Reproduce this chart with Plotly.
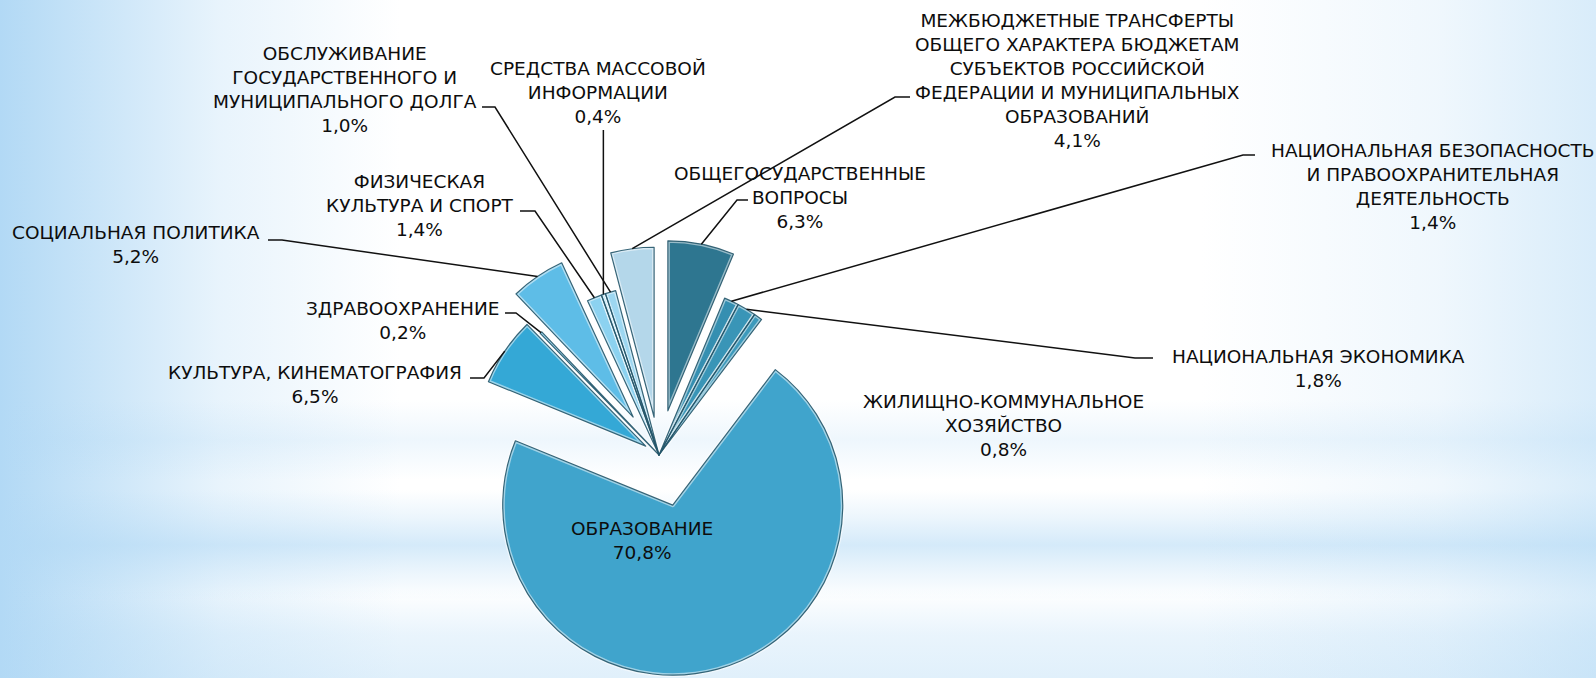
import math
import plotly.graph_objects as go

W, H = 1596, 678

# Budget expenditure structure by section, clockwise from 12 o'clock
sections = [
    "ОБЩЕГОСУДАРСТВЕННЫЕ<br>ВОПРОСЫ",
    "НАЦИОНАЛЬНАЯ БЕЗОПАСНОСТЬ<br>И ПРАВООХРАНИТЕЛЬНАЯ<br>ДЕЯТЕЛЬНОСТЬ",
    "НАЦИОНАЛЬНАЯ ЭКОНОМИКА",
    "ЖИЛИЩНО-КОММУНАЛЬНОЕ<br>ХОЗЯЙСТВО",
    "ОБРАЗОВАНИЕ",
    "КУЛЬТУРА, КИНЕМАТОГРАФИЯ",
    "ЗДРАВООХРАНЕНИЕ",
    "СОЦИАЛЬНАЯ ПОЛИТИКА",
    "ФИЗИЧЕСКАЯ<br>КУЛЬТУРА И СПОРТ",
    "СРЕДСТВА МАССОВОЙ<br>ИНФОРМАЦИИ",
    "ОБСЛУЖИВАНИЕ<br>ГОСУДАРСТВЕННОГО И<br>МУНИЦИПАЛЬНОГО ДОЛГА",
    "МЕЖБЮДЖЕТНЫЕ ТРАНСФЕРТЫ<br>ОБЩЕГО ХАРАКТЕРА БЮДЖЕТАМ<br>СУБЪЕКТОВ РОССИЙСКОЙ<br>ФЕДЕРАЦИИ И МУНИЦИПАЛЬНЫХ<br>ОБРАЗОВАНИЙ",
]
shares = [6.3, 1.4, 1.8, 0.8, 70.8, 6.5, 0.2, 5.2, 1.4, 0.4, 1.0, 4.1]

slice_colors = [
    "#2E7690", "#358FB1", "#3995B7", "#3D9ABC", "#40A4CC", "#34A8D6",
    "#4DB5E0", "#5EBDE7", "#8CD2F0", "#A8DDF3", "#9DD7F1", "#B4D7EA",
]
slice_pull = [0.265, 0.0, 0.0, 0.0, 0.306, 0.094, 0.0, 0.27, 0.0, 0.0, 0.0, 0.224]

# Pie placement (pixels): centre and radius
CX, CY, R = 659, 455, 170
half = R * (1 + max(slice_pull))
dom_x = [(CX - half) / W, (CX + half) / W]
dom_y = [(H - CY - half) / H, (H - CY + half) / H]

# Label blocks: centre (px) and leader start points (tick), None = no leader
label_layout = [
    dict(xy=(800, 197), tick=[(748, 200), (737, 200)]),
    dict(xy=(1432, 187), tick=[(1255, 155), (1243, 155)]),
    dict(xy=(1318, 368), tick=[(1153, 358), (1135, 358)]),
    dict(xy=(1003, 425), tick=None),
    dict(xy=(642, 540), tick=None),
    dict(xy=(315, 385), tick=[(470, 378), (484, 378)]),
    dict(xy=(402, 320), tick=[(505, 313), (516, 313)]),
    dict(xy=(136, 245), tick=[(268, 240), (282, 240)]),
    dict(xy=(420, 206), tick=[(520, 211), (535, 211)]),
    dict(xy=(598, 92), tick="vertical"),
    dict(xy=(345, 90), tick=[(482, 107), (495, 107)]),
    dict(xy=(1077, 80), tick=[(910, 97), (895, 97)]),
]


def px(x):
    return x / W


def py(y):
    return 1 - y / H


def pct(v):
    return f"{v:.1f}".replace(".", ",") + "%"


fig = go.Figure()

# Background haze on a hidden pixel-space axis
def haze(x0, x1, y0, y1, kind, scale):
    fig.add_trace(go.Scatter(
        x=[x0, x1, x1, x0, x0], y=[y0, y0, y1, y1, y0],
        mode="lines", line=dict(width=0), fill="toself",
        fillgradient=dict(type=kind, colorscale=scale),
        hoverinfo="skip", showlegend=False,
    ))

blue = "178,217,245"
haze(0, 400, 0, H, "horizontal",
     [[0, f"rgba({blue},1)"], [0.2, f"rgba({blue},0.75)"],
      [0.55, f"rgba({blue},0.3)"], [1, f"rgba({blue},0)"]])
haze(0, W, 490, 600, "vertical",
     [[0, f"rgba({blue},0)"], [0.25, f"rgba({blue},0.25)"], [0.5, f"rgba({blue},0.55)"],
      [0.75, f"rgba({blue},0.25)"], [1, f"rgba({blue},0)"]])
# bottom strip: strongest at the lower edge, fading upwards
haze(0, W, 590, H, "vertical",
     [[0, f"rgba({blue},0.4)"], [0.5, f"rgba({blue},0.28)"], [1, f"rgba({blue},0)"]])
haze(0, W, 400, 480, "vertical",
     [[0, f"rgba({blue},0)"], [0.5, f"rgba({blue},0.22)"], [1, f"rgba({blue},0)"]])
haze(1200, W, 0, H, "horizontal",
     [[0, f"rgba({blue},0)"], [0.6, f"rgba({blue},0.2)"], [1, f"rgba({blue},0.5)"]])

# Light rim under the outline gives the slices a bevelled edge
fig.add_trace(go.Pie(
    labels=[s.replace("<br>", " ") for s in sections], values=shares,
    sort=False, direction="clockwise", rotation=0, pull=slice_pull,
    marker=dict(colors=slice_colors, line=dict(color="rgba(255,255,255,0.5)", width=4)),
    textinfo="none", hoverinfo="label+value", domain=dict(x=dom_x, y=dom_y),
    showlegend=False,
))
fig.add_trace(go.Pie(
    labels=[s.replace("<br>", " ") for s in sections], values=shares,
    sort=False, direction="clockwise", rotation=0, pull=slice_pull,
    marker=dict(colors=["rgba(0,0,0,0)"] * len(shares),
                line=dict(color="rgba(35,85,105,0.9)", width=1.2)),
    textinfo="none", hoverinfo="skip", domain=dict(x=dom_x, y=dom_y),
    showlegend=False,
))

# Leader-line targets: outer arc at each slice's mid angle
total = sum(shares)
acc = 0.0
shapes, annotations = [], []
font = dict(family="DejaVu Sans", size=18.5, color="#0d0d0d")
for i, v in enumerate(shares):
    mid = 2 * math.pi * (acc + v / 2) / total
    acc += v
    dx, dy = math.sin(mid), -math.cos(mid)
    ax = CX + slice_pull[i] * R * dx
    ay = CY + slice_pull[i] * R * dy
    ex, ey = ax + R * dx, ay + R * dy

    lay = label_layout[i]
    lx, ly = lay["xy"]
    annotations.append(dict(
        x=px(lx), y=py(ly), xref="paper", yref="paper",
        text=f"{sections[i]}<br>{pct(v)}", showarrow=False,
        xanchor="center", yanchor="middle", align="center", font=font,
    ))
    tick = lay["tick"]
    if tick is None:
        continue
    if tick == "vertical":
        pts = [(ex, 130), (ex, ey)]
    else:
        pts = list(tick) + [(ex, ey)]
    path = "M " + " L ".join(f"{px(x):.5f},{py(y):.5f}" for x, y in pts)
    shapes.append(dict(type="path", path=path, xref="paper", yref="paper",
                       line=dict(color="#111111", width=1.5), layer="above"))

fig.update_layout(
    width=W, height=H,
    margin=dict(l=0, r=0, t=0, b=0),
    paper_bgcolor="#FFFFFF", plot_bgcolor="rgba(0,0,0,0)",
    xaxis=dict(range=[0, W], visible=False, fixedrange=True),
    yaxis=dict(range=[H, 0], visible=False, fixedrange=True),
    showlegend=False,
    shapes=shapes, annotations=annotations,
)

fig.write_html("out.html")
